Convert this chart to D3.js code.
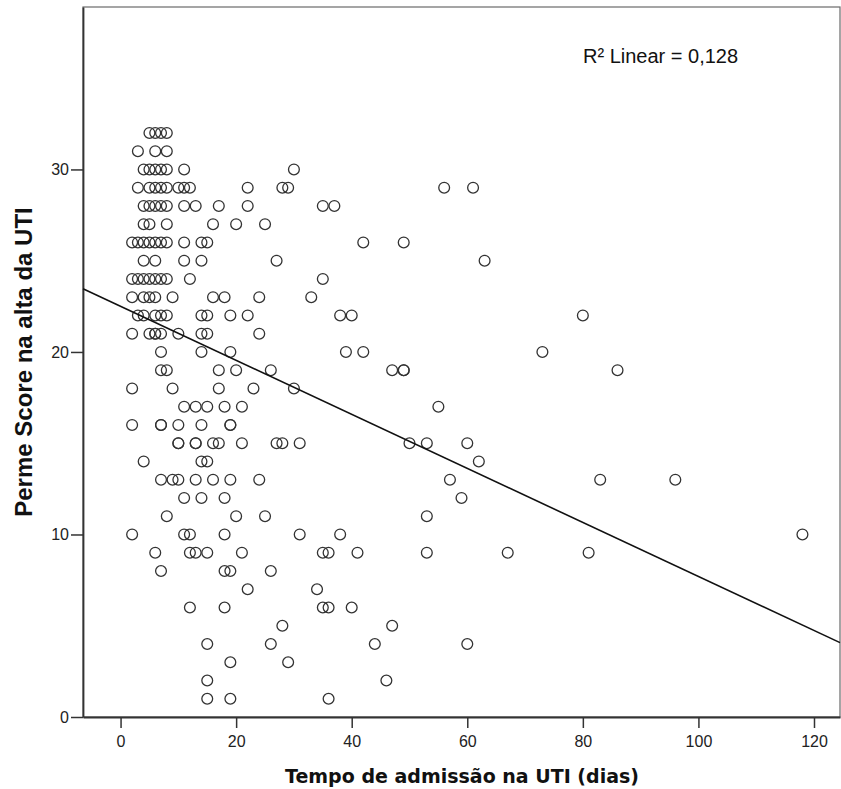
<!DOCTYPE html>
<html>
<head>
<meta charset="utf-8">
<script src="https://cdn.jsdelivr.net/npm/d3@7"></script>
<style>
  body { margin: 0; background: #fff; }
  svg { display: block; }
</style>
</head>
<body>
<div id="chart"></div>
<script>
// Perme score levels (y) and the admission days (x) of each point at that level
var scoreLevels = [32, 31, 30, 29, 28, 27, 26, 25, 24, 23, 22, 21, 20, 19, 18, 17,
                   16, 15, 14, 13, 12, 11, 10, 9, 8, 7, 6, 5, 4, 3, 2, 1];
var daysAtScore = [
  [5, 6, 7, 8],
  [3, 6, 8],
  [4, 5, 6, 7, 8, 11, 30],
  [3, 5, 6, 7, 8, 10, 11, 12, 22, 28, 29, 56, 61],
  [4, 5, 6, 7, 8, 11, 13, 17, 22, 35, 37],
  [4, 5, 8, 16, 20, 25],
  [2, 3, 4, 5, 6, 7, 8, 11, 14, 15, 42, 49],
  [4, 6, 11, 14, 27, 63],
  [2, 3, 4, 5, 6, 7, 8, 12, 35],
  [2, 4, 5, 6, 9, 16, 18, 24, 33],
  [3, 4, 6, 7, 8, 14, 15, 19, 22, 38, 40, 80],
  [2, 5, 6, 6, 7, 10, 14, 15, 24],
  [7, 14, 19, 39, 42, 73],
  [7, 8, 17, 20, 26, 47, 49, 49, 86],
  [2, 9, 17, 23, 30],
  [11, 13, 15, 18, 21, 55],
  [2, 7, 7, 10, 14, 19, 19],
  [10, 10, 13, 13, 16, 17, 21, 27, 28, 31, 50, 53, 60],
  [4, 14, 15, 62],
  [7, 9, 10, 13, 16, 19, 24, 57, 83, 96],
  [11, 14, 18, 59],
  [8, 20, 25, 53],
  [2, 11, 12, 18, 31, 38, 118],
  [6, 12, 13, 15, 21, 35, 36, 41, 53, 67, 81],
  [7, 18, 19, 26],
  [22, 34],
  [12, 18, 35, 36, 40],
  [28, 47],
  [15, 26, 44, 60],
  [19, 29],
  [15, 46],
  [15, 19, 36]
];

// fitted line as printed by the chart
var fitIntercept = 22.5,
    fitSlope = -0.148,
    fitLabel = "R² Linear = 0,128";

var xTicks = [0, 20, 40, 60, 80, 100, 120],
    yTicks = [0, 10, 20, 30];
var xDomain = [-6.5, 124.5],
    yDomain = [0, 38.9];

var xTitle = "Tempo de admissão na UTI (dias)",
    yTitle = "Perme Score na alta da UTI";

scatter();

function scatter() {
  var width = 841, height = 789;
  var plot = {left: 83, right: 840, top: 7, bottom: 717};
  var sans = "'Liberation Sans', Arial, sans-serif";

  var svg = d3.select("#chart").append("svg")
    .attr("width", width)
    .attr("height", height);

  var x = d3.scaleLinear().domain(xDomain).range([plot.left, plot.right]);
  var y = d3.scaleLinear().domain(yDomain).range([plot.bottom, plot.top]);

  var points = [];
  scoreLevels.forEach(function(s, i) {
    daysAtScore[i].forEach(function(d) { points.push({days: d, score: s}); });
  });

  // frame
  svg.append("rect")
    .attr("x", plot.left)
    .attr("y", plot.top)
    .attr("width", plot.right - plot.left)
    .attr("height", plot.bottom - plot.top)
    .style("fill", "none")
    .style("stroke", "#6a6a6a")
    .style("stroke-width", 1.2);

  var gx = svg.append("g")
    .attr("transform", "translate(0," + plot.bottom + ")")
    .call(d3.axisBottom(x).tickValues(xTicks).tickSizeInner(11).tickSizeOuter(0).tickPadding(8).tickFormat(d3.format("d")));

  var gy = svg.append("g")
    .attr("transform", "translate(" + plot.left + ",0)")
    .call(d3.axisLeft(y).tickValues(yTicks).tickSizeInner(12).tickSizeOuter(0).tickPadding(2).tickFormat(d3.format("d")));

  [gx, gy].forEach(function(g) {
    g.select(".domain").style("stroke", "#333").style("stroke-width", 1.8);
    g.selectAll(".tick line").style("stroke", "#333").style("stroke-width", 1.5);
    g.selectAll(".tick text")
      .style("font-family", sans)
      .style("font-size", "16px")
      .style("fill", "#222");
  });

  // points
  svg.append("g").selectAll("circle")
    .data(points).enter()
    .append("circle")
    .attr("cx", function(d) { return x(d.days); })
    .attr("cy", function(d) { return y(d.score); })
    .attr("r", 5.4)
    .style("fill", "none")
    .style("stroke", "#333")
    .style("stroke-width", 1.3);

  // regression line across the whole plot
  svg.append("line")
    .attr("x1", x(xDomain[0]))
    .attr("y1", y(fitIntercept + fitSlope * xDomain[0]))
    .attr("x2", x(xDomain[1]))
    .attr("y2", y(fitIntercept + fitSlope * xDomain[1]))
    .style("stroke", "#111")
    .style("stroke-width", 1.6);

  svg.append("text")
    .attr("x", 583)
    .attr("y", 63)
    .style("font-family", sans)
    .style("font-size", "20px")
    .style("fill", "#111")
    .text(fitLabel);

  svg.append("text")
    .attr("x", 462)
    .attr("y", 783)
    .attr("text-anchor", "middle")
    .style("font-family", "'DejaVu Sans', Verdana, sans-serif")
    .style("font-size", "19px")
    .style("font-weight", "bold")
    .style("fill", "#111")
    .text(xTitle);

  svg.append("text")
    .attr("transform", "translate(32,362) rotate(-90)")
    .attr("text-anchor", "middle")
    .style("font-family", sans)
    .style("font-size", "24px")
    .style("font-weight", "bold")
    .style("fill", "#111")
    .text(yTitle);
}
</script>
</body>
</html>
